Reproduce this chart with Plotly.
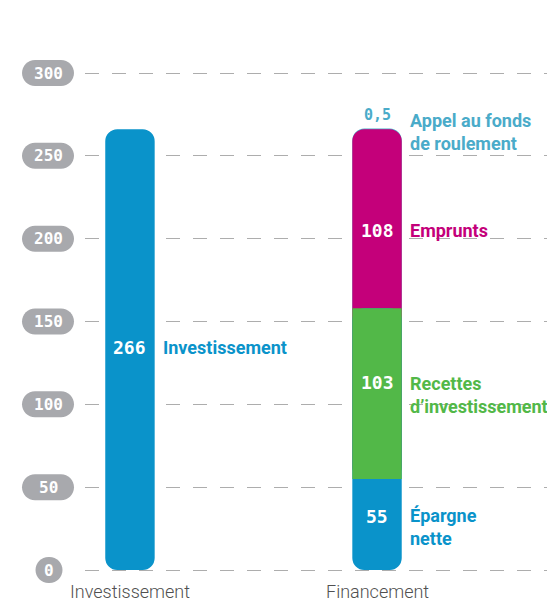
import plotly.graph_objects as go

# --- data -------------------------------------------------------------
categories = ["Investissement", "Financement"]
investissement_total = 266
financement_names = ["Épargne<br>nette", "Recettes<br>d’investissement", "Emprunts", "Appel au fonds<br>de roulement"]
financement_values = [55, 103, 108, 0.5]
y_ticks = [0, 50, 100, 150, 200, 250, 300]

# --- styles -----------------------------------------------------------
BLUE = "#0A93CA"
MAGENTA = "#C4007A"
GREEN = "#52B848"
TEAL = "#4AABC9"
GREY = "#A8A9AD"
GRID = "#ADADAD"
BAR_W = 0.2
RADIUS = 12
DIGITS = "DejaVu Sans Mono"
LABEL_FONT = "Roboto"
CAT_FONT = "Roboto"
Y_MIN, Y_MAX = -2.414, 302.414


def fmt(v):
    return ("%g" % v).replace(".", ",")


fig = go.Figure()

# Investissement column (explicit base -> every corner rounded)
fig.add_bar(x=[categories[0]], base=[0], y=[investissement_total], width=BAR_W,
            marker=dict(color=BLUE, cornerradius=RADIUS, line=dict(width=0)))

# Financement column, layered so that only the outer ends show rounding
epargne, recettes, emprunts, appel = financement_values
bases = [0, epargne, epargne + recettes, epargne + recettes + emprunts]
top = bases[3] + appel
fig.add_bar(x=[categories[1]], base=[bases[1]], y=[top - bases[1]], width=BAR_W,
            marker=dict(color=TEAL, cornerradius=RADIUS, line=dict(width=0)))
fig.add_bar(x=[categories[1]], base=[bases[1]], y=[bases[3] - bases[1]], width=BAR_W,
            marker=dict(color=MAGENTA, cornerradius=RADIUS, line=dict(width=0)))
fig.add_bar(x=[categories[1]], base=[0], y=[bases[2]], width=BAR_W,
            marker=dict(color=BLUE, cornerradius=RADIUS, line=dict(width=0)))
fig.add_bar(x=[categories[1]], base=[bases[1]], y=[recettes], width=BAR_W,
            marker=dict(color=GREEN, cornerradius=0, line=dict(width=0)))

annotations = []
shapes = []

# y tick labels in grey pills
k = 0.5523
for v in y_ticks:
    text = str(v)
    h = 26
    w = 27 if len(text) == 1 else 52
    r = h / 2
    cx = -37 if len(text) > 1 else -36
    xl, xr = cx - w / 2 + r, cx + w / 2 - r
    xL, xR = cx - w / 2, cx + w / 2
    path = (
        f"M {xl},{-r} L {xr},{-r} "
        f"C {xr + k * r},{-r} {xR},{-k * r} {xR},0 "
        f"C {xR},{k * r} {xr + k * r},{r} {xr},{r} "
        f"L {xl},{r} "
        f"C {xl - k * r},{r} {xL},{k * r} {xL},0 "
        f"C {xL},{-k * r} {xl - k * r},{-r} {xl},{-r} Z"
    )
    shapes.append(dict(
        type="path", xref="paper", yref="paper",
        xsizemode="pixel", ysizemode="pixel",
        xanchor=0, yanchor=(v - Y_MIN) / (Y_MAX - Y_MIN),
        path=path, fillcolor=GREY, line=dict(width=0),
    ))
    annotations.append(dict(
        x=0, xref="paper", xshift=cx, y=v, yref="y",
        text=f"<b>{text}</b>", showarrow=False,
        font=dict(family=DIGITS, size=16, color="white"),
        xanchor="center", yanchor="middle",
    ))

# category labels under the columns
for c in categories:
    annotations.append(dict(
        x=c, y=0, yref="y", yshift=-21, text=c, showarrow=False,
        font=dict(family=CAT_FONT, size=18, color="#505050", weight=300),
        xanchor="center", yanchor="middle",
    ))

# Investissement labels
half = investissement_total / 2
annotations.append(dict(
    x=categories[0], y=half, yshift=2, text=f"<b>{fmt(investissement_total)}</b>",
    showarrow=False, font=dict(family=DIGITS, size=18, color="white"),
    xanchor="center", yanchor="middle",
))
annotations.append(dict(
    x=categories[0], y=half, yshift=2, xshift=31, text=f"<b>{categories[0]}</b>",
    showarrow=False, font=dict(family=LABEL_FONT, size=18, color=BLUE),
    xanchor="left", yanchor="middle",
))

# Financement labels
seg_colors = [BLUE, GREEN, MAGENTA, TEAL]
value_shift = [8, 11, -12]
name_shift = [-3, -1, -12]
for i in range(3):
    mid = bases[i] + financement_values[i] / 2
    annotations.append(dict(
        x=categories[1], y=mid, yshift=value_shift[i],
        text=f"<b>{fmt(financement_values[i])}</b>", showarrow=False,
        font=dict(family=DIGITS, size=18, color="white"),
        xanchor="center", yanchor="middle",
    ))
    annotations.append(dict(
        x=categories[1], y=mid, yshift=name_shift[i], xshift=31,
        text=f"<b>{financement_names[i]}</b>", showarrow=False,
        font=dict(family=LABEL_FONT, size=18, color=seg_colors[i]),
        xanchor="left", yanchor="middle", align="left",
    ))
annotations.append(dict(
    x=categories[1], y=top, yshift=14, text=f"<b>{fmt(appel)}</b>", showarrow=False,
    font=dict(family=DIGITS, size=15, color=TEAL), xanchor="center", yanchor="middle",
))
annotations.append(dict(
    x=categories[1], y=top, yshift=-3.5, xshift=31, text=f"<b>{financement_names[3]}</b>",
    showarrow=False, font=dict(family=LABEL_FONT, size=18, color=TEAL),
    xanchor="left", yanchor="middle", align="left",
))

fig.update_layout(
    width=547, height=602,
    margin=dict(l=85, r=0, t=69, b=28),
    barmode="overlay", showlegend=False, hovermode=False,
    plot_bgcolor="white", paper_bgcolor="white",
    annotations=annotations, shapes=shapes,
    xaxis=dict(type="category", categoryarray=categories, range=[-0.182, 1.688],
               showticklabels=False, showgrid=False, zeroline=False, showline=False),
    yaxis=dict(range=[Y_MIN, Y_MAX], tickvals=y_ticks, showticklabels=False,
               showgrid=True, gridcolor=GRID, gridwidth=1, griddash="14px,13px",
               zeroline=False, showline=False),
)

fig.write_html("out.html")
